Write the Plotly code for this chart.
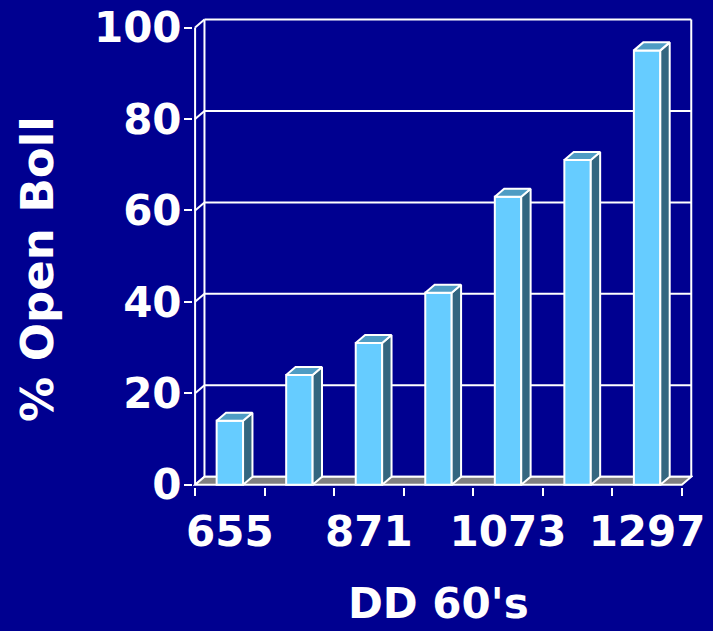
import plotly.graph_objects as go

# ---- data ----
categories = ["655", "763", "871", "972", "1073", "1185", "1297"]
tick_labels = ["655", "", "871", "", "1073", "", "1297"]
open_boll = [14, 24, 31, 42, 63, 71, 95]
y_ticks = [0, 20, 40, 60, 80, 100]

# ---- style / geometry ----
BG = "#000090"
FRONT = "#66CCFF"
SIDE = "#336680"
TOP = "#4E9CC4"
FLOOR = "#808080"
WHITE = "#FFFFFF"
FONT = dict(family="DejaVu Sans", size=42, color=WHITE, weight="bold")
TITLE_FONT = dict(family="DejaVu Sans", size=45, color=WHITE, weight="bold")

n = len(categories)
xs = list(range(n))
DX = 0.135   # depth offset in category units
DY = 1.75    # depth offset in value units
BW = 0.38    # bar width
x0, x1 = -0.5, n - 0.5

fig = go.Figure()

shapes = []
# back wall gridlines + connectors to front axis
for v in y_ticks:
    shapes.append(dict(type="line", xref="x", yref="y", x0=x0 + DX, x1=x1 + DX,
                       y0=v + DY, y1=v + DY, line=dict(color=WHITE, width=2), layer="below"))
    shapes.append(dict(type="line", xref="x", yref="y", x0=x0, x1=x0 + DX,
                       y0=v, y1=v + DY, line=dict(color=WHITE, width=2), layer="below"))
# back wall vertical edges
for xe in (x0 + DX, x1 + DX):
    shapes.append(dict(type="line", xref="x", yref="y", x0=xe, x1=xe,
                       y0=DY, y1=y_ticks[-1] + DY, line=dict(color=WHITE, width=2), layer="below"))
# front y axis line
shapes.append(dict(type="line", xref="x", yref="y", x0=x0, x1=x0, y0=0, y1=y_ticks[-1],
                   line=dict(color=WHITE, width=2), layer="below"))
# floor
shapes.append(dict(type="path", xref="x", yref="y",
                   path=f"M {x0},0 L {x1},0 L {x1+DX},{DY} L {x0+DX},{DY} Z",
                   fillcolor=FLOOR, line=dict(color=WHITE, width=2), layer="below"))

# bar front faces
fig.add_trace(go.Bar(x=xs, y=open_boll, width=BW, marker=dict(color=FRONT, line=dict(color=WHITE, width=2)),
                     hoverinfo="skip", showlegend=False))

# bar sides and tops
for x, v in zip(xs, open_boll):
    r = x + BW / 2
    l = x - BW / 2
    fig.add_trace(go.Scatter(x=[r, r + DX, r + DX, r, r], y=[0, DY, v + DY, v, 0],
                             fill="toself", fillcolor=SIDE, mode="lines",
                             line=dict(color=WHITE, width=2), hoverinfo="skip", showlegend=False))
    fig.add_trace(go.Scatter(x=[l, r, r + DX, l + DX, l], y=[v, v, v + DY, v + DY, v],
                             fill="toself", fillcolor=TOP, mode="lines",
                             line=dict(color=WHITE, width=2), hoverinfo="skip", showlegend=False))

fig.update_layout(
    width=713, height=631,
    paper_bgcolor=BG, plot_bgcolor=BG,
    margin=dict(l=193, r=20, t=17, b=144),
    shapes=shapes,
    showlegend=False,
    font=FONT,
    xaxis=dict(range=[-0.53, 6.66], showgrid=False, zeroline=False, showline=False,
               tickmode="array", tickvals=xs, ticktext=tick_labels, ticks="",
               tickfont=FONT, automargin=False, ticklabelstandoff=16,
               minor=dict(tickmode="array", tickvals=[i - 0.5 for i in range(n + 1)],
                          ticks="outside", ticklen=8, tickwidth=2, tickcolor=WHITE, showgrid=False),
               fixedrange=True),
    yaxis=dict(range=[-0.5, 102.3], showgrid=False, zeroline=False, showline=False,
               tickmode="array", tickvals=y_ticks, ticks="outside", ticklen=8, tickwidth=2,
               tickcolor=WHITE, tickfont=FONT, ticklabelstandoff=-6, automargin=False,
               fixedrange=True),
    annotations=[
        dict(text="DD 60's", xref="paper", yref="paper", x=0.49, y=-0.304, yanchor="bottom",
             xanchor="center", showarrow=False, font=FONT),
        dict(text="% Open Boll", xref="paper", yref="paper", x=-0.31, y=0.464, textangle=-90,
             xanchor="center", yanchor="middle", showarrow=False, font=TITLE_FONT),
    ],
)

fig.write_html("out.html", config={"displayModeBar": False},
               post_script="document.body.style.margin='0';document.body.style.padding='0';")
